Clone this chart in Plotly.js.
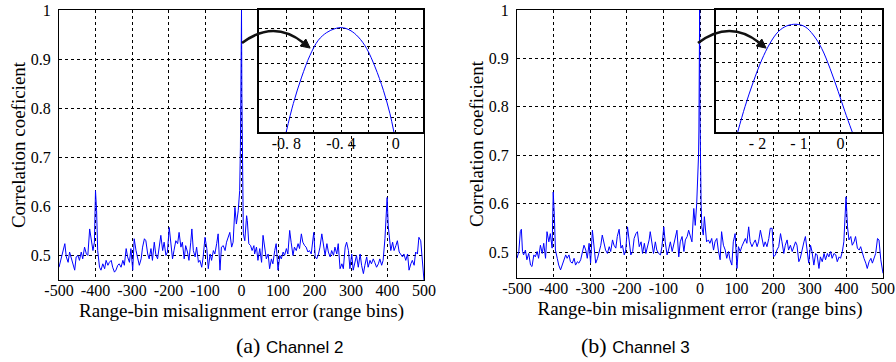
<!DOCTYPE html>
<html>
<head>
<meta charset="utf-8">
<script src="https://cdn.plot.ly/plotly-3.0.1.min.js"></script>
<style>html,body{margin:0;padding:0;background:#fff;}#chart{width:896px;height:362px;}</style>
</head>
<body>
<div id="chart"></div>
<script>
// ---------------- data ----------------
var xTickVals = [-500,-400,-300,-200,-100,0,100,200,300,400,500];
var xTickText = ['-500','-400','-300','-200','-100','0','100','200','300','400','500'];
var yTickVals = [0.5,0.6,0.7,0.8,0.9,1];
var yTickText = ['0.5','0.6','0.7','0.8','0.9','1'];

// Channel 2 correlation curve
var ch2X = [
-500,-495,-489,-484,-480,-475,-471,-466,-462,-457,
-453,-448,-444,-439,-435,-430,-425,-421,-416,-412,
-407,-403,-400,-397,-394,-389,-385,-380,-375,-371,
-366,-362,-357,-353,-348,-344,-339,-335,-330,-325,
-321,-316,-312,-307,-303,-298,-294,-289,-285,-280,
-275,-271,-266,-262,-257,-253,-248,-244,-239,-235,
-230,-225,-221,-216,-212,-207,-203,-198,-194,-189,
-185,-180,-175,-171,-166,-162,-157,-153,-148,-144,
-139,-136,-132,-127,-123,-118,-114,-109,-105,-100,
-95,-91,-86,-82,-77,-73,-68,-64,-59,-55,
-50,-45,-41,-36,-32,-27,-23,-18,-14,-9,
-5,
-3,-2,0,1,2,
3,5,9,14,16,20,25,29,34,36,
41,45,50,55,59,64,68,73,77,82,
86,91,95,100,105,109,114,118,123,127,
132,136,141,145,150,155,159,164,168,173,
177,182,186,191,195,198,202,206,211,215,
220,225,229,234,238,243,247,252,256,261,
265,270,275,279,284,288,293,297,302,306,
311,315,320,325,329,334,338,343,347,352,
356,361,365,370,375,379,384,388,393,399,
402,405,409,414,418,423,427,432,436,441,
445,450,455,459,464,468,473,477,482,486,
491,495,498,500
];
var ch2Y = [
0.476,0.49,0.51,0.524,0.497,0.486,0.507,0.493,0.483,0.47,
0.497,0.5,0.49,0.507,0.493,0.517,0.503,0.5,0.554,0.537,
0.51,0.527,0.632,0.591,0.51,0.476,0.47,0.483,0.473,0.49,
0.48,0.486,0.49,0.476,0.466,0.47,0.48,0.483,0.476,0.49,
0.48,0.514,0.497,0.486,0.514,0.47,0.534,0.51,0.493,0.48,
0.493,0.517,0.534,0.53,0.503,0.493,0.514,0.49,0.527,0.503,
0.493,0.52,0.541,0.51,0.527,0.5,0.507,0.557,0.53,0.493,
0.51,0.53,0.524,0.547,0.517,0.527,0.493,0.52,0.507,0.49,
0.527,0.554,0.51,0.497,0.517,0.486,0.49,0.476,0.497,0.537,
0.514,0.473,0.503,0.49,0.51,0.503,0.524,0.544,0.47,0.517,
0.52,0.51,0.527,0.541,0.547,0.517,0.527,0.598,0.564,0.591,
0.632,
0.72,0.82,1.0,0.83,0.71,
0.585,0.544,0.53,0.581,0.571,0.524,0.52,0.51,0.52,0.503,
0.517,0.49,0.514,0.486,0.541,0.517,0.493,0.503,0.473,0.493,
0.483,0.51,0.524,0.47,0.5,0.493,0.507,0.5,0.514,0.503,
0.551,0.527,0.5,0.517,0.51,0.524,0.514,0.544,0.527,0.52,
0.517,0.507,0.51,0.503,0.527,0.547,0.497,0.493,0.503,0.517,
0.544,0.514,0.5,0.524,0.507,0.497,0.51,0.5,0.517,0.503,
0.524,0.473,0.483,0.473,0.517,0.527,0.51,0.473,0.503,0.47,
0.486,0.5,0.476,0.503,0.48,0.463,0.48,0.497,0.476,0.49,
0.483,0.493,0.486,0.476,0.483,0.493,0.48,0.49,0.534,0.618,
0.56,0.53,0.51,0.527,0.51,0.52,0.53,0.507,0.503,0.497,
0.503,0.49,0.503,0.47,0.483,0.49,0.48,0.507,0.503,0.537,
0.53,0.497,0.456,0.449
];

// Channel 3 correlation curve
var ch3X = [
-500,-495,-491,-488,-485,-482,-477,-473,-468,-463,
-459,-454,-450,-445,-441,-436,-431,-427,-422,-418,
-413,-409,-404,-401,-398,-395,-390,-386,-381,-376,
-372,-367,-363,-358,-354,-349,-344,-340,-335,-331,
-326,-322,-317,-312,-308,-303,-299,-294,-290,-285,
-280,-276,-271,-267,-262,-258,-253,-248,-244,-239,
-235,-230,-226,-221,-216,-212,-207,-203,-198,-194,
-189,-184,-180,-175,-171,-166,-161,-157,-152,-148,
-143,-139,-136,-131,-127,-122,-118,-113,-108,-104,
-99,-95,-90,-86,-81,-76,-72,-67,-63,-58,
-54,-49,-44,-40,-35,-31,-26,-22,-17,-13,
-9,-6,
-4,-3,-2,-1,0,1,2,
3,5,9,12,15,18,23,27,32,37,
41,46,50,55,59,64,69,73,78,82,
87,91,96,101,105,110,114,119,124,128,
133,137,142,146,151,156,160,165,169,174,
178,183,188,192,197,201,206,210,215,220,
224,229,233,238,242,247,252,256,261,265,
270,274,279,284,288,293,297,302,306,311,
316,320,325,329,334,339,343,348,352,357,
361,366,371,375,380,384,389,393,396,399,
403,407,412,416,421,425,430,435,439,444,
448,453,457,462,467,471,476,480,485,489,
494,498,500
];
var ch3Y = [
0.487,0.501,0.542,0.547,0.501,0.494,0.504,0.484,0.497,0.473,
0.47,0.494,0.49,0.501,0.487,0.514,0.497,0.518,0.487,0.542,
0.521,0.538,0.508,0.624,0.576,0.504,0.487,0.473,0.463,0.473,
0.484,0.494,0.487,0.494,0.48,0.477,0.487,0.473,0.48,0.477,
0.484,0.497,0.514,0.504,0.487,0.518,0.477,0.545,0.508,0.477,
0.487,0.497,0.514,0.535,0.521,0.504,0.497,0.511,0.501,0.525,
0.514,0.508,0.532,0.547,0.508,0.514,0.494,0.504,0.552,0.528,
0.494,0.501,0.528,0.538,0.542,0.511,0.521,0.497,0.518,0.497,
0.511,0.525,0.542,0.511,0.497,0.521,0.504,0.497,0.494,0.511,
0.552,0.521,0.494,0.504,0.521,0.501,0.514,0.535,0.545,0.49,
0.521,0.532,0.501,0.525,0.532,0.545,0.528,0.521,0.59,0.555,
0.6,0.648,
0.7,0.75,0.9,1.0,0.78,0.7,0.64,
0.6,0.552,0.535,0.573,0.545,0.521,0.525,0.518,0.528,0.504,
0.521,0.528,0.504,0.484,0.542,0.514,0.504,0.487,0.501,0.484,
0.473,0.521,0.538,0.466,0.511,0.501,0.511,0.521,0.528,0.518,
0.552,0.521,0.511,0.518,0.525,0.511,0.521,0.545,0.532,0.511,
0.521,0.511,0.528,0.549,0.549,0.49,0.494,0.504,0.511,0.538,
0.521,0.497,0.514,0.525,0.504,0.514,0.501,0.511,0.521,0.514,
0.48,0.487,0.508,0.521,0.532,0.504,0.477,0.514,0.501,0.473,
0.497,0.494,0.466,0.49,0.48,0.497,0.484,0.497,0.49,0.501,
0.487,0.497,0.494,0.48,0.49,0.487,0.501,0.521,0.559,0.614,
0.552,0.525,0.532,0.514,0.521,0.532,0.508,0.504,0.511,0.494,
0.487,0.477,0.466,0.48,0.487,0.477,0.487,0.497,0.528,0.525,
0.484,0.466,0.456
];

// zoomed peaks (insets)
var inset2X = [-0.802,-0.749,-0.688,-0.627,-0.566,-0.505,-0.444,-0.395,-0.334,-0.273,-0.212,-0.151,-0.09,-0.042,-0.012];
var inset2Y = [0.99414,0.99577,0.99726,0.99848,0.99933,0.99976,0.99998,1.00004,0.99989,0.99951,0.99886,0.99783,0.99652,0.99521,0.99414];
var inset2TickVals = [-0.8,-0.6,-0.4,-0.2,0];
var inset2TickText = ['-0. 8','','-0. 4','','0'];

var inset3X = [-2.478,-2.301,-2.1,-1.899,-1.699,-1.498,-1.297,-1.072,-0.855,-0.655,-0.454,-0.253,-0.053,0.108,0.285];
var inset3Y = [0.99431,0.99567,0.99699,0.99814,0.99903,0.99965,0.99995,1.00004,0.99991,0.99947,0.99876,0.9977,0.99646,0.9954,0.99431];
var inset3TickVals = [-2.5,-2,-1.5,-1,-0.5,0,0.5];
var inset3TickText = ['','- 2','','- 1','','0',''];

var captionA = '(a) <span style="font-family:\'Liberation Sans\';font-size:17px">Channel 2</span>';
var captionB = '(b) <span style="font-family:\'Liberation Sans\';font-size:17px">Channel 3</span>';
var xTitle = 'Range-bin misalignment error (range bins)';
var yTitle = 'Correlation coeficient';

// ---------------- layout helpers ----------------
var W = 896, H = 362;
function px(x){ return x / W; }
function py(y){ return 1 - y / H; }
var SERIF = 'Liberation Serif';
var BLUE = '#0000ff';
var GRID = {showgrid: true, gridcolor: '#000', griddash: 'dot', gridwidth: 1};

function mainX(dom, anchor){
  return Object.assign({domain: dom, anchor: anchor, range: [-500, 500], tickmode: 'array', tickvals: xTickVals, ticktext: xTickText,
    zeroline: false, showline: true, mirror: true, linecolor: '#000', linewidth: 1, ticks: '', ticklabelstandoff: -4,
    tickfont: {family: SERIF, size: 16, color: '#000'},
    title: {text: xTitle, font: {family: SERIF, size: 19, color: '#000'}, standoff: 5}}, GRID);
}
function mainY(dom, anchor, lo){
  return Object.assign({domain: dom, anchor: anchor, range: [lo, 1.0], tickmode: 'array', tickvals: yTickVals, ticktext: yTickText,
    zeroline: false, showline: true, mirror: true, linecolor: '#000', linewidth: 1, ticks: '', ticklabelstandoff: 4,
    tickfont: {family: SERIF, size: 16, color: '#000'},
    title: {text: yTitle, font: {family: SERIF, size: 19, color: '#000'}, standoff: 0}}, GRID);
}
function insetX(dom, anchor, rng, tv, tt){
  return Object.assign({domain: dom, anchor: anchor, range: rng, tickmode: 'array', tickvals: tv, ticktext: tt,
    zeroline: false, showline: true, mirror: true, linecolor: '#000', linewidth: 1.6, ticks: '', ticklabelstandoff: -4,
    tickfont: {family: SERIF, size: 16, color: '#000'}}, GRID);
}
function insetY(dom, anchor, rng){
  return Object.assign({domain: dom, anchor: anchor, range: rng, tick0: 1, dtick: 0.001, showticklabels: false,
    zeroline: false, showline: true, mirror: true, linecolor: '#000', linewidth: 1.6, ticks: ''}, GRID);
}

var traces = [
  {x: ch2X, y: ch2Y, xaxis: 'x', yaxis: 'y', type: 'scatter', mode: 'lines', line: {color: BLUE, width: 1}},
  {x: ch3X, y: ch3Y, xaxis: 'x2', yaxis: 'y2', type: 'scatter', mode: 'lines', line: {color: BLUE, width: 1}},
  {x: inset2X, y: inset2Y, xaxis: 'x3', yaxis: 'y3', type: 'scatter', mode: 'lines', line: {color: BLUE, width: 1, shape: 'spline'}},
  {x: inset3X, y: inset3Y, xaxis: 'x4', yaxis: 'y4', type: 'scatter', mode: 'lines', line: {color: BLUE, width: 1, shape: 'spline'}}
];

// curved arrow from the main peak to the inset (pixel geometry)
function arrowShapes(dx){
  var s = [px(242+dx), py(43)], c = [px(273.5+dx), py(19.25)], e = [px(303+dx), py(42.5)];
  var t = [px(310.1+dx), py(48.1)], a = [px(300.2+dx), py(46.0)], b = [px(305.8+dx), py(39.0)];
  return [
    {type: 'path', xref: 'paper', yref: 'paper', path: 'M' + s[0] + ',' + s[1] + ' Q' + c[0] + ',' + c[1] + ' ' + e[0] + ',' + e[1],
     line: {color: '#111', width: 2.6}},
    {type: 'path', xref: 'paper', yref: 'paper', path: 'M' + t[0] + ',' + t[1] + ' L' + a[0] + ',' + a[1] + ' L' + b[0] + ',' + b[1] + ' Z',
     line: {color: '#111', width: 1}, fillcolor: '#111'}
  ];
}

var layout = {
  width: W, height: H, margin: {l: 0, r: 0, t: 0, b: 0},
  font: {family: SERIF, color: '#000'},
  paper_bgcolor: '#fff', plot_bgcolor: '#fff', showlegend: false,
  xaxis: mainX([px(59), px(424)], 'y'),
  yaxis: mainY([py(280), py(10)], 'x', 0.45),
  xaxis2: mainX([px(517), px(883)], 'y2'),
  yaxis2: mainY([py(278), py(10)], 'x2', 0.4463),
  xaxis3: insetX([px(259), px(423)], 'y3', [-1.0, 0.2], inset2TickVals, inset2TickText),
  yaxis3: insetY([py(132), py(10)], 'x3', [0.994174, 1.001028]),
  xaxis4: insetX([px(716), px(882)], 'y4', [-3, 1], inset3TickVals, inset3TickText),
  yaxis4: insetY([py(132), py(10)], 'x4', [0.994324, 1.000796]),
  shapes: arrowShapes(0).concat(arrowShapes(456)),
  annotations: [
    {text: captionA, xref: 'paper', yref: 'paper', x: px(234), y: py(360), yanchor: 'bottom', showarrow: false,
     font: {family: SERIF, size: 22, color: '#000'}},
    {text: captionB, xref: 'paper', yref: 'paper', x: px(692), y: py(360), yanchor: 'bottom', showarrow: false,
     font: {family: SERIF, size: 22, color: '#000'}}
  ]
};

Plotly.newPlot('chart', traces, layout, {staticPlot: true, displayModeBar: false});
</script>
</body>
</html>
